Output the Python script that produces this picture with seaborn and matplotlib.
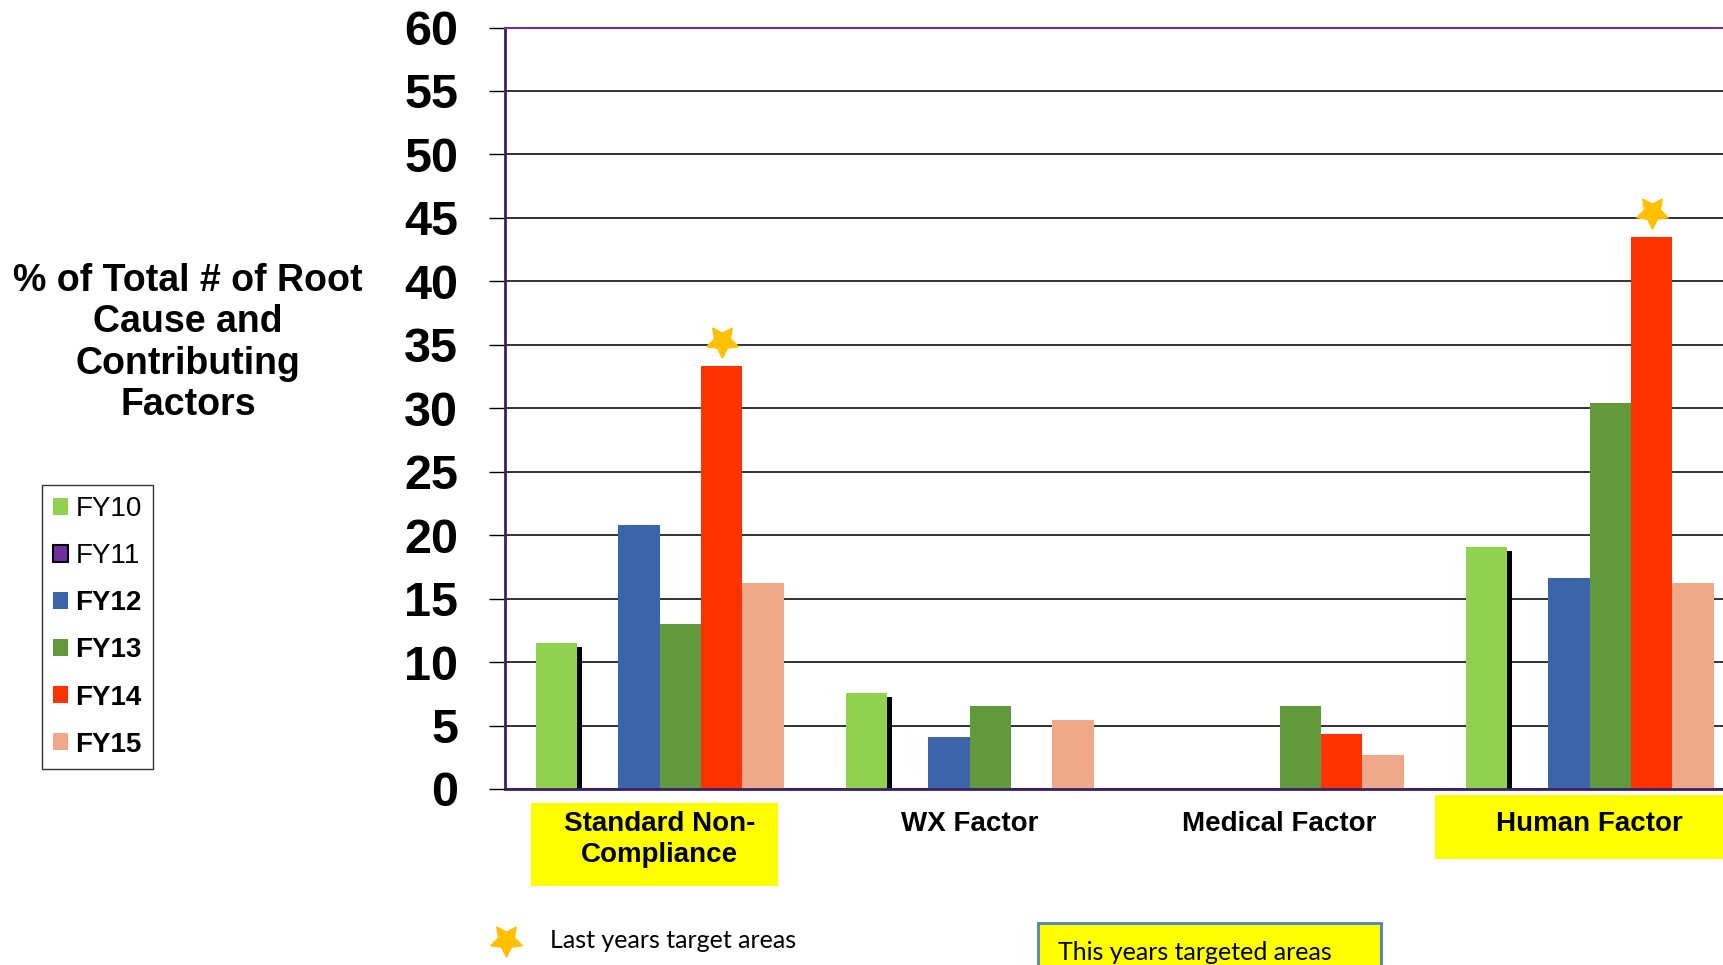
import matplotlib
matplotlib.use("Agg")
import matplotlib.pyplot as plt
import matplotlib.patheffects as pe
from matplotlib.patches import Patch, Rectangle
from matplotlib.lines import Line2D
from matplotlib.transforms import offset_copy
import seaborn as sns
import pandas as pd

# dados
categorias = ['Standard Non-\nCompliance', 'WX Factor', 'Medical Factor', 'Human Factor']
anos = ['FY10', 'FY11', 'FY12', 'FY13', 'FY14', 'FY15']
fy10 = [11.5, 7.6, 0, 19.1]
fy11 = [0, 0, 0, 0]
fy12 = [20.8, 4.1, 0, 16.6]
fy13 = [13.0, 6.5, 6.5, 30.4]
fy14 = [33.3, 0, 4.3, 43.5]
fy15 = [16.2, 5.4, 2.7, 16.2]
alvos_ano_passado = ['Standard Non-\nCompliance', 'Human Factor']
yticks = list(range(0, 61, 5))

cores = ['#92D050', '#7030A0', '#3C64AB', '#63993D', '#FF3300', '#F0A88A']

valores = [fy10, fy11, fy12, fy13, fy14, fy15]
df = pd.DataFrame({
    'Categoria': categorias * len(anos),
    'Ano': [a for a in anos for _ in categorias],
    'Valor': [v for serie in valores for v in serie],
})

sns.set_theme(style='white')
plt.rcParams['font.family'] = ['Liberation Sans', 'DejaVu Sans']
plt.rcParams['text.color'] = 'black'
plt.rcParams['xtick.color'] = 'black'
plt.rcParams['ytick.color'] = 'black'

fig = plt.figure(figsize=(17.24, 9.65), dpi=100)
ax = fig.add_axes([0.2927, 0.1824, 0.7193, 0.7891])

sns.barplot(data=df, x='Categoria', y='Valor', hue='Ano', order=categorias, hue_order=anos,
            palette=cores, saturation=1, width=0.8, gap=0, linewidth=0, legend=False, ax=ax)

# sombra preta das barras FY10
for barra in ax.containers[0]:
    barra.set_path_effects([pe.SimplePatchShadow(offset=(3.3, -3), shadow_rgbFace='black', alpha=1),
                            pe.Normal()])

# estrelas nas areas alvo do ano passado
trans_estrela = offset_copy(ax.transData, fig=fig, y=25, units='dots')
for barra, cat in zip(ax.containers[4], categorias):
    if cat in alvos_ano_passado:
        ax.plot(barra.get_x() + barra.get_width() / 2, barra.get_height(), marker=(5, 1, 180),
                markersize=24, color='#FFC000', transform=trans_estrela, clip_on=False, zorder=5)

ax.set_ylim(0, 60)
ax.set_xlim(-0.5, 3.5)
ax.set_yticks(yticks)
ax.set_yticklabels([str(t) for t in yticks], fontsize=35, fontweight='bold')
ax.set_xticks(range(len(categorias)))
ax.set_xticklabels(categorias, fontsize=20, fontweight='bold', va='top', multialignment='center',
                   linespacing=1.25)
ax.set_xticks([-0.5, 0.5, 1.5, 2.5, 3.5], minor=True)
ax.tick_params(axis='x', which='major', length=0, pad=16)
ax.tick_params(axis='x', which='minor', length=6, width=1, color='black', direction='out')
ax.tick_params(axis='y', length=11.5, width=1, color='black', direction='out', pad=22, left=True)
ax.set_xlabel('')
ax.set_ylabel('')

ax.yaxis.grid(True, color='#222222', linewidth=1.3)
ax.set_axisbelow(True)

ax.spines['left'].set_color('#3B1F63')
ax.spines['left'].set_linewidth(2)
ax.spines['bottom'].set_color('#3B1F63')
ax.spines['bottom'].set_linewidth(2)
ax.spines['top'].set_visible(True)
ax.spines['top'].set_color('#7030A0')
ax.spines['top'].set_linewidth(1.5)
ax.spines['right'].set_visible(False)

# caixas amarelas dos alvos deste ano
fig.add_artist(Rectangle((0.308, 0.0819), 0.1433, 0.086, transform=fig.transFigure,
                         facecolor='#FFFF00', edgecolor='none', zorder=-1))
fig.add_artist(Rectangle((0.8324, 0.1098), 0.18, 0.0663, transform=fig.transFigure,
                         facecolor='#FFFF00', edgecolor='none', zorder=-1))

# titulo do eixo y
fig.text(188 / 1724, 1 - 343 / 965, '% of Total # of Root\nCause and\nContributing\nFactors',
         ha='center', va='center', fontsize=27, fontweight='bold', linespacing=1.2)

# legenda
handles = [Patch(facecolor=c, edgecolor='black' if a == 'FY11' else 'none', linewidth=1.5)
           for a, c in zip(anos, cores)]
leg = fig.legend(handles, anos, loc='upper left', bbox_to_anchor=(42 / 1724, 1 - 485 / 965),
                 borderaxespad=0, fontsize=20, frameon=True, fancybox=False,
                 handlelength=0.55, handleheight=0.55, handletextpad=0.25, labelspacing=0.76,
                 borderpad=0.4)
leg.get_frame().set_edgecolor('black')
leg.get_frame().set_linewidth(1)
for txt, a in zip(leg.get_texts(), anos):
    if a not in ('FY10', 'FY11'):
        txt.set_fontweight('bold')

# legenda inferior
fig.add_artist(Line2D([506 / 1724], [1 - 940 / 965], marker=(5, 1, 180), markersize=24,
                      color='#FFC000', transform=fig.transFigure))
fig.text(550 / 1724, 1 - 940 / 965, 'Last years target areas', fontsize=18, family='Lato',
         va='center', ha='left')
fig.add_artist(Rectangle((1038 / 1724, -0.02), 343 / 1724, 1 - 923 / 965 + 0.02,
                         transform=fig.transFigure, facecolor='#FFFF00', edgecolor='#4F81BD',
                         linewidth=2))
fig.text(1058 / 1724, 1 - 952 / 965, 'This years targeted areas', fontsize=18, family='Lato',
         va='center', ha='left')

fig.savefig('out.png', dpi=100, facecolor='white')
